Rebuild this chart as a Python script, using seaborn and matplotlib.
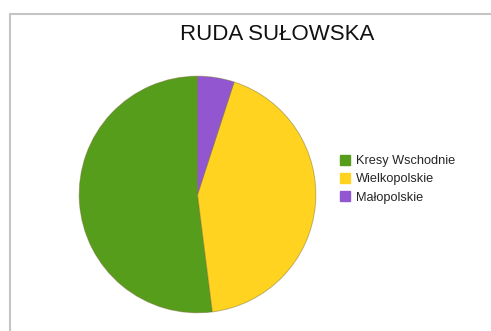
import matplotlib
matplotlib.use("Agg")
import matplotlib.pyplot as plt
from matplotlib.lines import Line2D
import seaborn as sns

regions = ["Kresy Wschodnie", "Wielkopolskie", "Małopolskie"]
shares = [52, 43, 5]
colors = ["#579d1c", "#ffd320", "#9257d0"]
title = "RUDA SUŁOWSKA"

sns.set_theme(style="white")
plt.rcParams["font.family"] = ["Liberation Sans", "DejaVu Sans"]
palette = sns.color_palette(colors)

W, H = 491, 331
fig = plt.figure(figsize=(W / 100, H / 100), dpi=100)
fig.patch.set_facecolor("white")

# frame lines along the top and left edges
fig.add_artist(Line2D([10 / W, 10 / W], [0, 1 - 13.5 / H], transform=fig.transFigure,
                      color="#c4c4c4", lw=1.5))
fig.add_artist(Line2D([10 / W, 1], [1 - 14 / H, 1 - 14 / H], transform=fig.transFigure,
                      color="#c4c4c4", lw=1.5))

cx, cy, r = 197.5, 194.5, 119.5
ax = fig.add_axes([(cx - r) / W, (H - cy - r) / H, 2 * r / W, 2 * r / H])
ax.pie(shares, colors=palette, startangle=90, counterclock=True, radius=1,
       wedgeprops=dict(edgecolor=(0.45, 0.42, 0.2, 0.45), linewidth=0.7))
ax.set_xlim(-1.01, 1.01)
ax.set_ylim(-1.01, 1.01)
ax.set_aspect("equal")
ax.axis("off")

fig.text(277 / W, 1 - 35 / H, title, ha="center", va="center", fontsize=16, color="#111111")

handles = [Line2D([], [], marker="s", linestyle="none", markersize=6.5,
                  markerfacecolor=c, markeredgecolor=c) for c in palette]
fig.legend(handles, regions, loc="upper left", bbox_to_anchor=(339 / W, 1 - 155 / H),
           frameon=False, fontsize=9.2, handlelength=0.9, handletextpad=0.45,
           labelspacing=0.5, borderaxespad=0, borderpad=0)

fig.savefig("out.png", dpi=100)
